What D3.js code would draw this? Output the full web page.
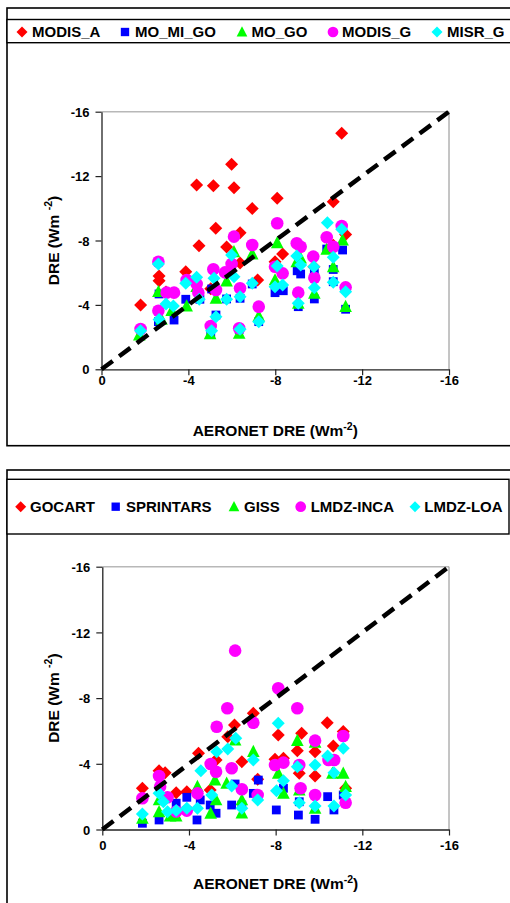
<!DOCTYPE html>
<html>
<head>
<meta charset="utf-8">
<script src="https://cdn.jsdelivr.net/npm/d3@7"></script>
<style>
  html, body { margin: 0; padding: 0; background: #fff; }
  svg { display: block; font-family: Arial, "Liberation Sans", sans-serif; }
</style>
</head>
<body>
<svg id="chart" width="510" height="903"></svg>
<script>
// ---------------- DATA ----------------
const axisTicks = [0, -4, -8, -12, -16];

const topSeriesNames = ["MODIS_A", "MO_MI_GO", "MO_GO", "MODIS_G", "MISR_G"];
const bottomSeriesNames = ["GOCART", "SPRINTARS", "GISS", "LMDZ-INCA", "LMDZ-LOA"];

// [AERONET DRE, model/satellite DRE]
const MODIS_A = [[-1.8,-4.0],[-2.65,-5.8],[-2.65,-5.5],[-2.97,-4.8],[-3.88,-6.06],[-4.38,-11.45],[-4.49,-7.68],[-5.03,-5.0],[-5.15,-11.4],[-5.26,-8.76],[-5.76,-7.6],[-5.99,-12.73],[-6.1,-11.28],[-6.38,-8.48],[-6.38,-6.6],[-6.94,-9.98],[-7.19,-5.55],[-7.99,-6.68],[-8.09,-10.62],[-8.34,-7.16],[-9.78,-6.37],[-10.67,-10.41],[-10.67,-7.7],[-11.06,-14.66],[-11.24,-8.38]];
const MO_MI_GO = [[-2.65,-4.68],[-2.62,-2.96],[-3.34,-3.06],[-3.88,-4.35],[-4.53,-4.35],[-5.03,-2.24],[-5.07,-4.99],[-5.27,-3.37],[-5.76,-4.37],[-6.34,-2.48],[-6.38,-4.41],[-6.94,-5.3],[-7.24,-2.96],[-7.99,-4.76],[-8.37,-4.88],[-9.01,-6.12],[-9.17,-5.92],[-9.06,-3.89],[-9.8,-4.37],[-9.8,-5.95],[-10.37,-7.47],[-10.67,-5.44],[-10.67,-6.2],[-11.1,-7.41],[-11.24,-3.73]];
const MO_GO = [[-1.74,-2.13],[-2.62,-4.82],[-2.76,-3.1],[-3.23,-3.64],[-3.92,-3.93],[-4.38,-5.13],[-5.0,-2.2],[-5.27,-4.41],[-5.76,-5.48],[-6.1,-7.3],[-6.34,-2.24],[-6.94,-7.16],[-7.24,-3.3],[-7.99,-5.55],[-8.09,-7.86],[-8.99,-6.68],[-9.06,-4.1],[-9.17,-6.9],[-9.8,-4.72],[-10.37,-7.45],[-10.67,-6.37],[-11.1,-8.03],[-11.24,-3.89]];
const MODIS_G = [[-1.8,-2.5],[-2.62,-6.68],[-2.62,-3.64],[-3.0,-4.76],[-3.34,-4.76],[-3.92,-5.55],[-4.38,-5.3],[-4.46,-4.76],[-5.03,-2.69],[-5.15,-6.21],[-5.27,-4.93],[-5.69,-6.02],[-5.99,-6.54],[-6.1,-8.24],[-6.34,-2.55],[-6.38,-5.03],[-6.94,-7.72],[-7.24,-3.89],[-7.99,-6.37],[-8.09,-9.07],[-8.34,-5.96],[-8.99,-7.83],[-9.17,-7.61],[-9.06,-4.76],[-9.75,-7.0],[-9.8,-5.69],[-10.37,-8.2],[-10.67,-7.61],[-11.06,-8.9],[-11.24,-5.09]];
const MISR_G = [[-1.8,-2.4],[-2.62,-6.54],[-2.65,-3.1],[-2.97,-4.06],[-3.31,-3.93],[-3.88,-5.34],[-4.38,-5.71],[-4.5,-4.35],[-5.07,-2.4],[-5.18,-5.65],[-5.27,-3.27],[-5.76,-4.35],[-5.99,-7.1],[-6.1,-5.75],[-6.38,-4.51],[-6.38,-2.48],[-6.94,-5.34],[-7.24,-2.96],[-7.99,-5.13],[-8.09,-6.42],[-8.34,-5.24],[-8.99,-7.04],[-9.17,-6.48],[-9.06,-4.1],[-9.78,-6.37],[-9.8,-5.07],[-10.4,-9.1],[-10.67,-6.96],[-10.67,-5.4],[-11.06,-8.7],[-11.24,-4.82]];

const GOCART = [[-1.85,-2.51],[-2.62,-3.58],[-2.9,-3.46],[-3.41,-2.24],[-3.9,-2.3],[-4.44,-4.64],[-4.98,-2.4],[-5.25,-4.23],[-5.79,-5.65],[-6.1,-6.36],[-6.44,-4.13],[-6.97,-7.08],[-7.17,-3.06],[-7.97,-4.28],[-8.12,-5.76],[-8.36,-4.34],[-9.0,-4.8],[-9.09,-3.42],[-9.2,-5.86],[-9.82,-4.74],[-9.82,-3.26],[-10.38,-6.5],[-10.66,-5.09],[-11.12,-5.96],[-11.23,-2.51]];
const SPRINTARS = [[-1.85,-0.38],[-2.62,-0.58],[-3.41,-1.6],[-3.9,-1.96],[-4.37,-0.58],[-4.52,-1.8],[-4.98,-1.49],[-5.25,-0.99],[-5.97,-1.49],[-6.13,-2.77],[-6.44,-1.49],[-6.97,-2.2],[-7.2,-3.01],[-8.03,-1.19],[-8.36,-2.51],[-9.05,-0.88],[-9.09,-1.69],[-9.82,-0.62],[-10.4,-2.0],[-10.69,-1.19],[-11.12,-2.1]];
const GISS = [[-1.85,-0.68],[-2.62,-1.08],[-2.62,-1.8],[-3.13,-0.82],[-3.41,-0.82],[-4.39,-2.61],[-5.0,-0.99],[-5.2,-3.01],[-5.25,-1.8],[-5.74,-2.81],[-6.13,-5.45],[-6.44,-1.8],[-6.44,-1.0],[-6.97,-4.74],[-8.12,-3.42],[-8.36,-2.2],[-9.0,-5.41],[-9.09,-2.4],[-9.82,-1.29],[-9.82,-5.3],[-10.62,-3.42],[-11.12,-3.42],[-11.23,-2.61]];
const LMDZ_INCA = [[-1.85,-1.9],[-2.62,-3.26],[-2.67,-2.61],[-3.01,-1.96],[-3.41,-1.1],[-3.9,-1.15],[-4.39,-2.2],[-5.0,-3.99],[-5.25,-3.52],[-5.28,-6.26],[-5.77,-7.38],[-5.97,-3.73],[-6.13,-10.89],[-6.44,-2.45],[-6.97,-6.5],[-7.17,-2.1],[-7.97,-3.93],[-8.12,-8.6],[-8.36,-4.07],[-9.0,-7.38],[-9.09,-3.93],[-9.15,-2.51],[-9.82,-5.41],[-9.82,-2.1],[-10.44,-4.23],[-10.7,-4.23],[-11.12,-5.69],[-11.23,-1.63]];
const LMDZ_LOA = [[-1.85,-0.94],[-2.62,-2.2],[-2.82,-1.69],[-3.01,-1.08],[-3.41,-1.15],[-3.9,-1.29],[-4.39,-1.29],[-4.55,-3.58],[-5.05,-2.1],[-5.28,-4.74],[-5.79,-4.9],[-5.97,-2.65],[-6.16,-5.55],[-6.44,-1.29],[-6.97,-4.23],[-7.17,-1.8],[-8.04,-2.36],[-8.12,-6.47],[-8.36,-2.97],[-9.0,-3.82],[-9.09,-1.63],[-9.82,-3.93],[-9.82,-1.43],[-10.4,-4.48],[-10.69,-3.46],[-10.69,-1.43],[-11.12,-4.95],[-11.23,-2.1]];

const oneToOne = [[0, 0], [-16, -16]];

// ---------------- STYLE ----------------
const colors = ["#ff0000", "#0000ff", "#00ff00", "#ff00ff", "#00ffff"];
const shapes = ["diamond", "square", "triangle", "circle", "diamond"];

function shapePath(shape, s) {
  if (shape === "diamond") { const r = 6.5 * s; return `M0,${-r}L${r},0L0,${r}L${-r},0Z`; }
  if (shape === "square") { const h = 4.4 * s; return `M${-h},${-h}H${h}V${h}H${-h}Z`; }
  if (shape === "triangle") { const w = 6.3 * s, t = 6.8 * s, b = 5.4 * s; return `M0,${-t}L${w},${b}L${-w},${b}Z`; }
  const r = 6.3 * s;
  return `M${r},0A${r},${r} 0 1,1 ${-r},0A${r},${r} 0 1,1 ${r},0Z`;
}

const svg = d3.select("#chart");

function drawPanel(cfg) {
  const g = svg.append("g");
  g.append("rect").attr("x", 7).attr("y", cfg.frameTop).attr("width", cfg.frameW).attr("height", cfg.frameH)
    .attr("fill", "none").attr("stroke", "#000").attr("stroke-width", 1.6);
  g.append("rect").attr("x", 7).attr("y", cfg.legTop).attr("width", cfg.legW).attr("height", cfg.legH)
    .attr("fill", "#fff").attr("stroke", "#000").attr("stroke-width", 1.4);

  cfg.names.forEach((n, i) => {
    const lx = cfg.legMarkX[i];
    g.append("path").attr("d", shapePath(shapes[i], i === 1 ? 0.95 : 0.85))
      .attr("transform", `translate(${lx},${cfg.legMarkY})`).attr("fill", colors[i]);
    g.append("text").attr("x", cfg.legTextX[i]).attr("y", cfg.legTextY)
      .attr("font-size", 15).attr("font-weight", "bold").attr("fill", "#000").text(n);
  });

  const x = d3.scaleLinear().domain([0, -16]).range([cfg.x0, 449]);
  const y = d3.scaleLinear().domain([0, -16]).range([cfg.y0, cfg.y16]);

  g.append("line").attr("x1", x(0)).attr("x2", x(-16)).attr("y1", y(-16)).attr("y2", y(-16))
    .attr("stroke", "#b8b8b8").attr("stroke-width", 1.6);
  g.append("line").attr("x1", x(-16)).attr("x2", x(-16)).attr("y1", y(-16)).attr("y2", y(0))
    .attr("stroke", "#8a8a8a").attr("stroke-width", 1);

  const xAxis = g.append("g").attr("transform", `translate(0,${y(0)})`)
    .call(d3.axisBottom(x).tickValues(axisTicks).tickSize(6).tickSizeOuter(0).tickFormat(d => String(d)));
  const yAxis = g.append("g").attr("transform", `translate(${x(0)},0)`)
    .call(d3.axisLeft(y).tickValues(axisTicks).tickSize(6).tickSizeOuter(0).tickFormat(d => String(d)));
  [xAxis, yAxis].forEach(a => {
    a.select(".domain").attr("stroke", "#222").attr("stroke-width", 1.3);
    a.selectAll(".tick line").attr("stroke", "#222").attr("stroke-width", 1.2);
    a.selectAll("text").attr("font-size", 13).attr("font-weight", "bold").attr("fill", "#000")
      .attr("font-family", "Arial, 'Liberation Sans', sans-serif");
  });
  xAxis.selectAll("text").attr("dy", null).attr("y", cfg.xTickDy);
  yAxis.selectAll("text").attr("x", -12).attr("dy", "0.36em");

  const xt = g.append("text").attr("x", (x(0) + x(-16)) / 2).attr("y", y(0) + cfg.xTitleDy)
    .attr("text-anchor", "middle").attr("font-size", 15.5).attr("font-weight", "bold");
  xt.append("tspan").text("AERONET DRE (Wm");
  xt.append("tspan").attr("font-size", 10.5).attr("dy", -6).text("-2");
  xt.append("tspan").attr("dy", 6).text(")");

  const ycx = 59, ycy = (y(0) + y(-16)) / 2;
  const yt = g.append("text").attr("transform", `translate(${ycx},${ycy}) rotate(-90)`)
    .attr("text-anchor", "middle").attr("font-size", 15.5).attr("font-weight", "bold");
  yt.append("tspan").text("DRE (Wm ");
  yt.append("tspan").attr("font-size", 10.5).attr("dy", -7).text("-2");
  yt.append("tspan").attr("dy", 7).text(")");

  // points
  cfg.series.forEach((data, i) => {
    g.append("g").selectAll("path").data(data).join("path")
      .attr("d", shapePath(shapes[i], 1))
      .attr("transform", d => `translate(${x(d[0])},${y(d[1])})`)
      .attr("fill", colors[i]);
  });

  // 1:1 dashed line drawn over the markers
  g.append("path").datum(oneToOne)
    .attr("d", d3.line().x(d => x(d[0])).y(d => y(d[1])))
    .attr("fill", "none").attr("stroke", "#000").attr("stroke-width", 4.5)
    .attr("stroke-dasharray", "14,8");
}

drawPanel({
  frameTop: 8, frameW: 520, frameH: 437.7,
  legTop: 19.5, legW: 520, legH: 23.2,
  names: topSeriesNames,
  legMarkX: [22, 125, 242, 333, 437], legTextX: [32, 135, 251.5, 342, 447],
  legMarkY: 32, legTextY: 37.3,
  series: [MODIS_A, MO_MI_GO, MO_GO, MODIS_G, MISR_G],
  x0: 101.5, y0: 369.3, y16: 111.7,
  xTickDy: 15.8, xTitleDy: 66.7
});

drawPanel({
  frameTop: 470, frameW: 520, frameH: 460,
  legTop: 479.3, legW: 502, legH: 54.7,
  names: bottomSeriesNames,
  legMarkX: [20.7, 115.7, 234, 300.7, 415], legTextX: [30, 126, 244, 310.7, 424.3],
  legMarkY: 506.7, legTextY: 512.3,
  series: [GOCART, SPRINTARS, GISS, LMDZ_INCA, LMDZ_LOA],
  x0: 102.3, y0: 829.5, y16: 566.7,
  xTickDy: 20.3, xTitleDy: 59.8
});
</script>
</body>
</html>
